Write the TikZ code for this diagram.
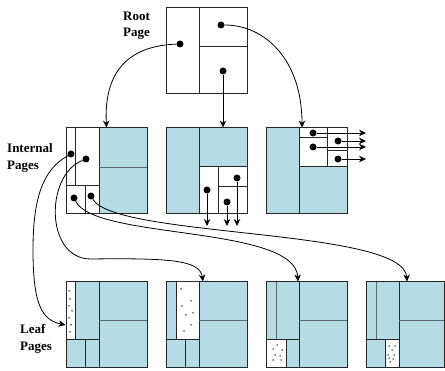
\documentclass[tikz,border=0pt]{standalone}
\usepackage{fontspec}
\setmainfont{Liberation Serif}
\usepackage{xcolor}
\usetikzlibrary{arrows.meta}

\definecolor{pageblue}{RGB}{181,219,229}
\definecolor{innergray}{RGB}{95,105,112}

\begin{document}
\begin{tikzpicture}[
    x=1pt, y=-1pt,
    every node/.style={font=\fontsize{13}{16.5}\selectfont\bfseries},
    page/.style={
        rectangle, draw=black!85, line width=1pt, inner sep=0pt,
        minimum width=81pt, minimum height=86pt
    },
    part/.style={draw=black!85, line width=0.9pt},
    softpart/.style={draw=innergray, line width=0.9pt},
    dot/.style={circle, fill=black, inner sep=0pt, minimum size=7pt},
    pagelabel/.style={anchor=north west, align=left, inner sep=0pt},
    arrow/.style={-{Stealth[length=7pt, width=6.5pt]}, line width=0.8pt}
]
\useasboundingbox (0,0) rectangle (445,371);

% Labels
\node[pagelabel] (rootlbl) at (123,11.5) {Root\\Page};
\node[pagelabel] (intlbl) at (7,143.5) {Internal\\Pages};
\node[pagelabel] (leaflbl) at (20,324.5) {Leaf\\Pages};

% Root page
\draw[part] (199,7.5) -- (199,93.5);
\draw[part] (199,46) -- (247,46);
\node[page] (root) at (206.5,50.5) {};

% Internal pages
\fill[pageblue] (99,128) rectangle (147,214);
\draw[part] (99,128) -- (99,214);
\draw[part] (75,128) -- (75,185);
\draw[part] (66,185) -- (99,185);
\draw[part] (85,185) -- (85,214);
\draw[softpart] (99,167) -- (147,167);
\node[page] (int1) at (106.5,171) {};

\fill[pageblue] (166,128) rectangle (199,214);
\fill[pageblue] (199,128) rectangle (247,166);
\draw[part] (199,128) -- (199,214);
\draw[part] (199,166) -- (247,166);
\draw[part] (218,166) -- (218,214);
\draw[part] (218,186) -- (247,186);
\node[page] (int2) at (206.5,171) {};

\fill[pageblue] (266,128) rectangle (299,214);
\fill[pageblue] (299,166) rectangle (347,214);
\draw[part] (299,128) -- (299,214);
\draw[part] (299,166) -- (347,166);
\draw[part] (327,128) -- (327,166);
\draw[part] (299,137) -- (327,137);
\draw[part] (327,150) -- (347,150);
\node[page] (int3) at (306.5,171) {};

% Leaf pages
\fill[pageblue] (66,282) rectangle (147,368);
\fill[white] (66,282) rectangle (75,339);
\draw[part] (75,282) -- (75,339);
\draw[part] (99,282) -- (99,368);
\draw[part] (66,339) -- (99,339);
\draw[part] (85,339) -- (85,368);
\draw[softpart] (99,320) -- (147,320);
\node[page] (leaf1) at (106.5,325) {};

\fill[pageblue] (166,282) rectangle (247,368);
\fill[white] (176,282) rectangle (199,339);
\draw[part] (176,282) -- (176,339);
\draw[part] (199,282) -- (199,368);
\draw[part] (166,339) -- (199,339);
\draw[part] (185,339) -- (185,368);
\draw[softpart] (199,320) -- (247,320);
\node[page] (leaf2) at (206.5,325) {};

\fill[pageblue] (266,282) rectangle (347,368);
\fill[white] (266,339) rectangle (286,368);
\draw[softpart] (276,282) -- (276,339);
\draw[part] (299,282) -- (299,368);
\draw[part] (266,339) -- (299,339);
\draw[part] (286,339) -- (286,368);
\draw[softpart] (299,320) -- (347,320);
\node[page] (leaf3) at (306.5,325) {};

\fill[pageblue] (366,282) rectangle (444,368);
\fill[white] (385,339) rectangle (399,368);
\draw[softpart] (376,282) -- (376,339);
\draw[part] (399,282) -- (399,368);
\draw[part] (366,339) -- (399,339);
\draw[part] (385,339) -- (385,368);
\draw[softpart] (399,320) -- (444,320);
\node[page, minimum width=78pt] (leaf4) at (405,325) {};

% Records in the leaf pages
\foreach \x/\y in {69/291, 70/299, 69/306, 72/311, 69/318, 71/325, 70/332,
                   181/289, 191/301, 182/306, 193/313, 186/315, 191/325, 184/331,
                   277/345, 273/349, 282/350, 275/355, 280/356, 273/360, 281/360,
                   389/346, 395/346, 392/350, 388/355, 394/355, 389/358, 393/359, 390/362}
    \fill (\x,\y) circle (0.75pt);

% Pointers
\node[dot] (r1) at (180,44) {};
\node[dot] (r2) at (221,25) {};
\node[dot] (r3) at (223,71) {};
\node[dot] (a1) at (71,154) {};
\node[dot] (a2) at (86,159) {};
\node[dot] (a3) at (74,198) {};
\node[dot] (a4) at (91,196) {};
\node[dot] (b1) at (207,190) {};
\node[dot] (b2) at (227,202) {};
\node[dot] (b3) at (237,178) {};
\node[dot] (c1) at (313,133) {};
\node[dot] (c2) at (338,141) {};
\node[dot] (c3) at (313,147) {};
\node[dot] (c4) at (338,159) {};

\coordinate (b1end) at (207,226);
\coordinate (b2end) at (227,226);
\coordinate (b3end) at (237,226);
\coordinate (c1end) at (366,133);
\coordinate (c2end) at (366,141);
\coordinate (c3end) at (366,147);
\coordinate (c4end) at (366,159);

% Arrows
\draw[arrow] (r1) .. controls (125,46) and (104,75) .. (int1.north);
\draw[arrow] (r2) .. controls (265,25) and (302,60) .. ([xshift=-4.5pt]int3.north);
\draw[arrow] (r3) -- (int2.north -| r3);

\draw[arrow] (a1) .. controls (42,170) and (33,200) .. (33,250)
                  .. controls (33,305) and (42,320) .. (leaf1.west);
\draw[arrow] (a2) .. controls (45,175) and (45,258) .. (90,259)
                  .. controls (170,258) and (200,260) .. ([xshift=-3.5pt]leaf2.north);
\draw[arrow] (a3) .. controls (95,240) and (295,225) .. ([xshift=-8.5pt]leaf3.north);
\draw[arrow] (a4) .. controls (115,238) and (404,228) .. ([xshift=2pt]leaf4.north);

\foreach \n in {b1, b2, b3, c1, c2, c3, c4}
    \draw[arrow] (\n) -- (\n end);

\end{tikzpicture}
\end{document}
